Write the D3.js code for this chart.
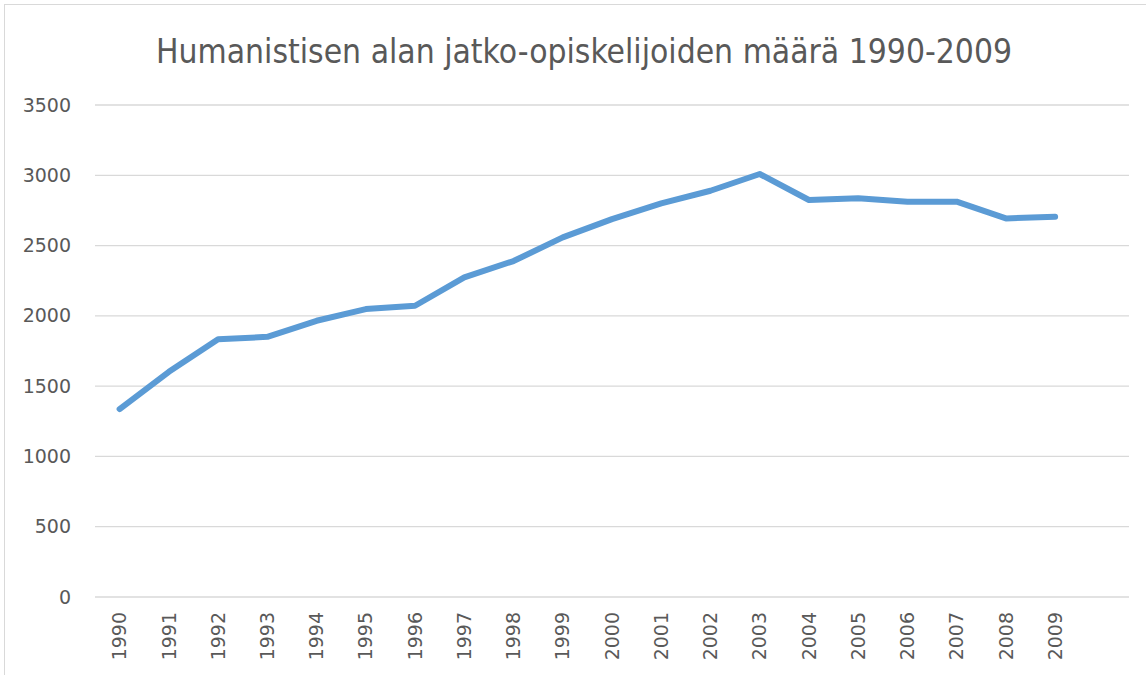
<!DOCTYPE html>
<html>
<head>
<meta charset="utf-8">
<script src="https://cdn.jsdelivr.net/npm/d3@7"></script>
<style>
  body { margin: 0; background: white; }
  svg { display: block; }
</style>
</head>
<body>
<div id="chart"></div>
<script>
// years on the x axis
let years = ['1990', '1991', '1992', '1993', '1994', '1995', '1996', '1997', '1998', '1999',
	'2000', '2001', '2002', '2003', '2004', '2005', '2006', '2007', '2008', '2009'];

// number of postgraduate students
let students = [1337, 1602, 1833, 1851, 1965, 2048, 2072, 2274, 2390, 2558,
	2688, 2800, 2890, 3009, 2824, 2836, 2812, 2812, 2693, 2705];

let yTicks = [0, 500, 1000, 1500, 2000, 2500, 3000, 3500];

let titleText = 'Humanistisen alan jatko-opiskelijoiden määrä 1990-2009';

function lineChart(selector) {

	let width = 1146,
		height = 675,
		margin = {
			top: 105,
			bottom: 78,
			left: 95,
			right: 17
		};

	let svg = d3.select(selector)
		.append('svg')
		.attr('width', width)
		.attr('height', height)
		.style('background', 'white');

	// outer chart frame
	svg.append('rect')
		.attr('x', 4.5)
		.attr('y', 4.5)
		.attr('width', width + 10)
		.attr('height', height + 10)
		.style('fill', 'none')
		.style('stroke', '#d9d9d9')
		.style('stroke-width', 1);

	// Excel leaves one empty slot at the end, so 21 bands
	let x = d3.scaleBand()
		.domain(years.concat(['']))
		.range([margin.left, width - margin.right]);

	let y = d3.scaleLinear()
		.domain([0, 3500])
		.range([height - margin.bottom, margin.top]);

	// grid lines
	svg.append('g')
		.selectAll('line')
		.data(yTicks)
		.join('line')
		.attr('x1', margin.left)
		.attr('x2', width - margin.right)
		.attr('y1', d => y(d))
		.attr('y2', d => y(d))
		.style('stroke', '#d9d9d9')
		.style('stroke-width', 1.3);

	let yAxis = svg.append('g')
		.attr('transform', 'translate(' + (margin.left - 24) + ',0)')
		.call(d3.axisLeft(y).tickValues(yTicks).tickFormat(d3.format('d')).tickSize(0).tickPadding(0));
	yAxis.select('.domain').remove();
	yAxis.selectAll('text')
		.style('font-family', '"DejaVu Sans", sans-serif')
		.style('font-size', '19px')
		.style('fill', '#595959');

	let xAxis = svg.append('g')
		.attr('transform', 'translate(0,' + (height - margin.bottom) + ')')
		.call(d3.axisBottom(x).tickValues(years).tickSize(0));
	xAxis.select('.domain').remove();
	xAxis.selectAll('text')
		.attr('transform', 'rotate(-90)')
		.attr('x', -15)
		.attr('y', 0)
		.attr('dy', '0.35em')
		.style('text-anchor', 'end')
		.style('font-family', '"DejaVu Sans", sans-serif')
		.style('font-size', '19px')
		.style('fill', '#595959');

	let line = d3.line()
		.x((d, i) => x(years[i]) + x.bandwidth() / 2)
		.y(d => y(d));

	svg.append('path')
		.datum(students)
		.attr('d', line)
		.style('fill', 'none')
		.style('stroke', '#5b9bd5')
		.style('stroke-width', 6)
		.style('stroke-linejoin', 'round')
		.style('stroke-linecap', 'round');

	// title, stretched to the width it has in the original
	svg.append('text')
		.attr('x', 584)
		.attr('y', 63)
		.attr('textLength', 856)
		.attr('lengthAdjust', 'spacingAndGlyphs')
		.style('text-anchor', 'middle')
		.style('font-family', '"DejaVu Sans Condensed", "DejaVu Sans", sans-serif')
		.style('font-size', '33.5px')
		.style('fill', '#595959')
		.text(titleText);

	return svg;
}

lineChart('#chart');
</script>
</body>
</html>
